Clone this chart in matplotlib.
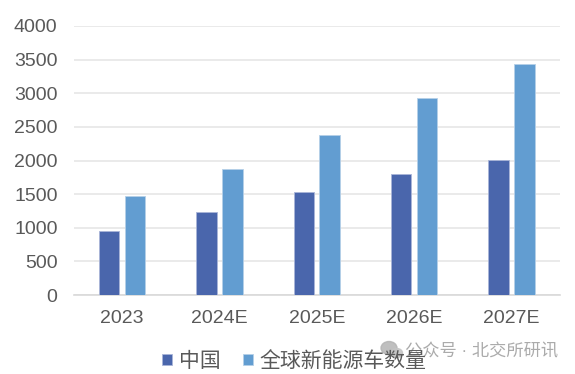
import numpy as np
from matplotlib import pyplot as plt
from matplotlib.patches import Ellipse

plt.rcParams['font.family'] = ['Liberation Sans', 'Noto Sans CJK SC', 'DejaVu Sans']

years = ['2023', '2024E', '2025E', '2026E', '2027E']
china = [950, 1235, 1525, 1795, 2005]
world = [1465, 1875, 2375, 2925, 3435]
y_ticks = [0, 500, 1000, 1500, 2000, 2500, 3000, 3500, 4000]


def main():
    fig = plt.figure(figsize=(5.75, 3.74), dpi=100)
    ax = fig.add_axes([73.5 / 575, 1 - 295 / 374, 486.5 / 575, 269 / 374])

    x = np.arange(len(years))
    ax.bar(x - 0.133, china, 0.21, color='#4A66AC', edgecolor='#A9B5D8', linewidth=0.6, label='中国', zorder=3)
    ax.bar(x + 0.133, world, 0.21, color='#629DD1', edgecolor='#B5D0E8', linewidth=0.6, label='全球新能源车数量', zorder=3)

    ax.set_xlim(-0.5, len(years) - 0.5)
    ax.set_ylim(0, 4000)
    ax.set_yticks(y_ticks)
    ax.set_xticks(x)
    ax.set_xticklabels(years)
    ax.grid(axis='y', color='#E6E6E6', linewidth=1.2, zorder=0)
    ax.tick_params(axis='both', length=0, labelsize=14, labelcolor='#595959')
    ax.tick_params(axis='y', pad=11.5)
    ax.tick_params(axis='x', pad=11)
    for s in ['top', 'right', 'left']:
        ax.spines[s].set_visible(False)
    ax.spines['bottom'].set_color('#D9D9D9')
    ax.spines['bottom'].set_linewidth(1.2)

    fig.legend(loc='center', bbox_to_anchor=(294.5 / 575, 1 - 361 / 374), ncol=2, frameon=False,
               fontsize=15, labelcolor='#595959', handlelength=0.48, handleheight=0.48,
               handletextpad=0.3, columnspacing=1.1, borderpad=0)

    # watermark
    fig.text(405 / 575, 1 - 351 / 374, '公众号 · 北交所研讯', color='#ABABAB', fontsize=12.4, va='center', ha='left')
    icon = fig.add_axes([0, 0, 1, 1], facecolor='none')
    icon.set_xlim(0, 575)
    icon.set_ylim(374, 0)
    icon.axis('off')
    icon.add_patch(Ellipse((389, 348), 16, 13, color='#B4B4B4', alpha=0.85))
    icon.add_patch(Ellipse((397, 353), 11, 9, color='#C4C4C4', alpha=0.85))

    fig.savefig('out.png', dpi=100)


if __name__ == '__main__':
    main()
